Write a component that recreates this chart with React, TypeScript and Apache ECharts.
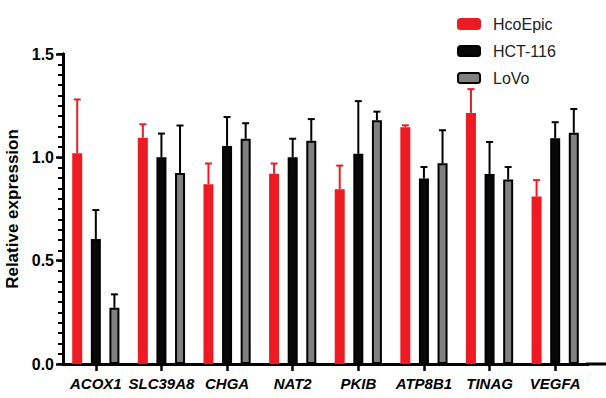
import React, { useEffect, useRef } from "react";
import * as echarts from "echarts";

const categories = ["ACOX1", "SLC39A8", "CHGA", "NAT2", "PKIB", "ATP8B1", "TINAG", "VEGFA"];
const seriesNames = ["HcoEpic", "HCT-116", "LoVo"];
const hcoEpic = [1.02, 1.095, 0.87, 0.92, 0.845, 1.145, 1.215, 0.81];
const hcoEpicErr = [0.26, 0.065, 0.1, 0.05, 0.115, 0.01, 0.115, 0.08];
const hct116 = [0.605, 1.0, 1.055, 1.0, 1.017, 0.898, 0.919, 1.092];
const hct116Err = [0.14, 0.115, 0.14, 0.09, 0.255, 0.055, 0.155, 0.078];
const lovo = [0.272, 0.924, 1.09, 1.08, 1.179, 0.971, 0.893, 1.119];
const lovoErr = [0.065, 0.23, 0.075, 0.105, 0.042, 0.16, 0.06, 0.115];
const yTicks = [0, 0.5, 1.0, 1.5];
const minorStep = 0.05;

const FONT = "Arial, 'Liberation Sans', sans-serif";
const RED = "#ED1C24";
const BAR_W = 10;
const BAR_GAP = 0.86;

export default function App() {
  const ref = useRef<HTMLDivElement>(null);
  useEffect(() => {
    if (!ref.current) return;
    const chart = echarts.init(ref.current, null, { renderer: "svg" });
    const values = [hcoEpic, hct116, lovo];
    const errs = [hcoEpicErr, hct116Err, lovoErr];
    const fills = [RED, "#080808", "#808080"];
    const borders = [RED, "#000000", "#000000"];
    const errColors = [RED, "#000000", "#000000"];

    const bars = values.map((vals, i) => ({
      name: seriesNames[i],
      type: "bar",
      data: vals,
      barWidth: BAR_W,
      barGap: `${BAR_GAP * 100}%`,
      itemStyle: { color: fills[i], borderColor: borders[i], borderWidth: 2 },
      z: 3,
    }));

    const errSeries = values.map((vals, i) => ({
      name: "err" + i,
      type: "custom",
      z: 2,
      data: vals.map((v, j) => [j, v, errs[i][j]]),
      renderItem: (params: any, api: any) => {
        const c = api.value(0);
        const v = api.value(1);
        const e = api.value(2);
        const p0 = api.coord([c, v]);
        const p1 = api.coord([c, v + e]);
        const x = p0[0] + (i - 1) * BAR_W * (1 + BAR_GAP);
        const style = { stroke: errColors[i], lineWidth: 2 };
        return {
          type: "group",
          children: [
            { type: "line", shape: { x1: x, y1: p0[1], x2: x, y2: p1[1] }, style },
            { type: "line", shape: { x1: x - 3.5, y1: p1[1], x2: x + 3.5, y2: p1[1] }, style },
          ],
        };
      },
    }));

    const yMin = yTicks[0];
    const yMax = yTicks[yTicks.length - 1];

    chart.setOption({
      animation: false,
      grid: { left: 63, right: 18, top: 54, bottom: 34, containLabel: false, outerBoundsMode: "none" },
      legend: {
        data: seriesNames,
        orient: "vertical",
        left: 452,
        top: 11,
        itemWidth: 22,
        itemHeight: 10,
        itemGap: 11,
        textStyle: { fontFamily: FONT, fontSize: 16, color: "#222", padding: [0, 0, 0, 8] },
      },
      xAxis: {
        type: "category",
        data: categories,
        axisLine: { lineStyle: { color: "#000", width: 3 } },
        axisTick: { show: true, alignWithLabel: true, length: 7, lineStyle: { width: 2.5, color: "#000" } },
        axisLabel: {
          fontFamily: FONT,
          fontSize: 15,
          fontWeight: "bold",
          fontStyle: "italic",
          color: "#000",
          margin: 12,
          interval: 0,
        },
      },
      yAxis: [
        {
          type: "value",
          min: yMin,
          max: yMax,
          interval: 0.5,
          name: "Relative expression",
          nameLocation: "middle",
          nameGap: 34,
          nameTextStyle: { fontFamily: FONT, fontSize: 17, fontWeight: "bold", color: "#000" },
          axisLine: { show: true, lineStyle: { color: "#000", width: 3 } },
          axisTick: { show: true, length: 7, lineStyle: { width: 2.5, color: "#000" } },
          splitLine: { show: false },
          axisLabel: {
            fontFamily: FONT,
            fontSize: 16,
            fontWeight: "bold",
            color: "#000",
            margin: 9,
            formatter: (v: number) => v.toFixed(1),
          },
        },
        {
          type: "value",
          position: "left",
          min: yMin,
          max: yMax,
          interval: minorStep,
          axisLine: { show: true, lineStyle: { color: "#000", width: 3 } },
          axisTick: { show: true, length: 5, lineStyle: { width: 2, color: "#000" } },
          axisLabel: { show: false },
          splitLine: { show: false },
        },
      ],
      graphic: [
        {
          type: "line",
          shape: { x1: 586, y1: 364, x2: 606, y2: 364 },
          style: { stroke: "#000", lineWidth: 3 },
        },
      ],
      series: [...errSeries, ...bars],
    });
    return () => chart.dispose();
  }, []);
  return (
    <div
      ref={ref}
      style={{ position: "fixed", left: 0, top: 0, width: 606, height: 398, background: "#fff" }}
    />
  );
}
